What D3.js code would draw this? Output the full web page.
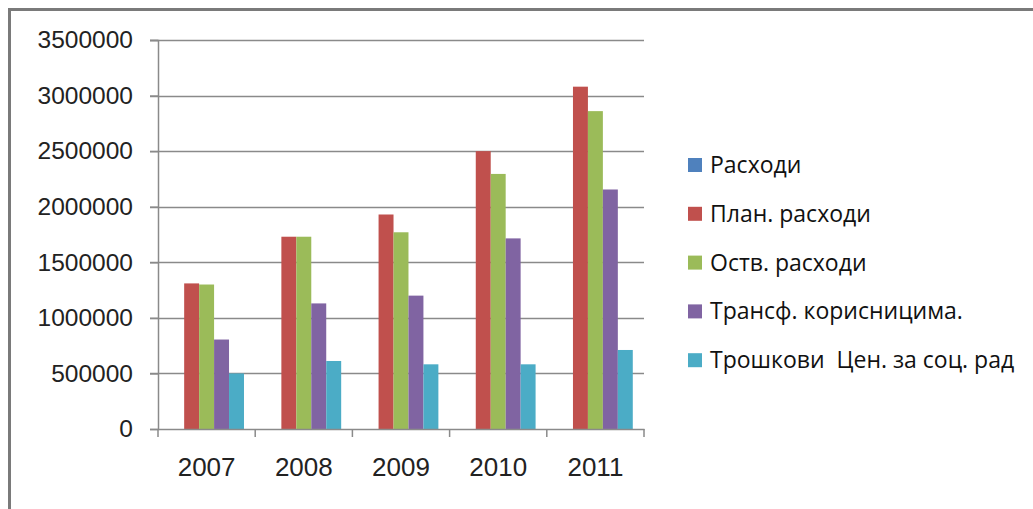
<!DOCTYPE html>
<html lang="sr">
<head>
    <meta charset="UTF-8">
    <title>Расходи</title>
    <script src="https://d3js.org/d3.v7.min.js"></script>
    <style>
        body {
            margin: 0;
            background: #fff;
            font-family: "Open Sans", sans-serif;
        }
        .axis text {
            fill: #222;
        }
        .legend text {
            fill: #111;
        }
    </style>
</head>
<body>
    <div id="chart"></div>
    <script>
        var width = 1033,
            height = 509;

        // data
        var years = ["2007", "2008", "2009", "2010", "2011"];
        var seriesNames = ["Расходи", "План. расходи", "Оств. расходи", "Трансф. корисницима.", "Трошкови  Цен. за соц. рад"];
        var seriesColors = ["#4F81BD", "#C0504D", "#9BBB59", "#8064A2", "#4BACC6"];
        var rashodi = [0, 0, 0, 0, 0];
        var planRashodi = [1310000, 1730000, 1930000, 2500000, 3080000];
        var ostvRashodi = [1300000, 1730000, 1770000, 2295000, 2860000];
        var transfKorisnicima = [805000, 1130000, 1200000, 1715000, 2155000];
        var troskoviCentra = [500000, 612000, 582000, 582000, 711000];
        var yTicks = [0, 500000, 1000000, 1500000, 2000000, 2500000, 3000000, 3500000];

        var series = [rashodi, planRashodi, ostvRashodi, transfKorisnicima, troskoviCentra];

        var margin = { left: 158, top: 40, right: 389, bottom: 80 };
        var plotW = width - margin.left - margin.right,
            plotH = height - margin.top - margin.bottom;

        var svg = d3.select("#chart").append("svg")
            .attr("width", width)
            .attr("height", height);

        // outer chart border (only top and left are in frame)
        svg.append("path")
            .attr("d", "M9.5," + height + "V9.5H" + width)
            .attr("fill", "none")
            .attr("stroke", "#7a7a7a")
            .attr("stroke-width", 3);

        var g = svg.append("g").attr("transform", "translate(" + margin.left + "," + margin.top + ")");

        var x = d3.scaleBand().domain(years).range([0, plotW]).paddingInner(0).paddingOuter(0);
        // Excel style: gap width 150% of a bar
        var barW = x.bandwidth() / (series.length + 1.5);
        var x1 = d3.scaleBand().domain(d3.range(series.length))
            .range([barW * 0.75, barW * 0.75 + barW * series.length]);

        var y = d3.scaleLinear().domain([0, 3500000]).range([plotH, 0]);

        // gridlines
        g.append("g").selectAll("line")
            .data(yTicks.slice(1))
            .enter().append("line")
            .attr("x1", -8)
            .attr("x2", plotW)
            .attr("y1", function(d) { return Math.round(y(d)) + 0.5; })
            .attr("y2", function(d) { return Math.round(y(d)) + 0.5; })
            .attr("stroke", "#8a8a8a")
            .attr("stroke-width", 1.5);

        // bars
        var groups = g.append("g").selectAll("g")
            .data(series)
            .enter().append("g")
            .attr("fill", function(d, i) { return seriesColors[i]; });

        groups.each(function(vals, si) {
            d3.select(this).selectAll("rect")
                .data(vals)
                .enter().append("rect")
                .attr("x", function(d, i) { return x(years[i]) + x1(si); })
                .attr("width", x1.bandwidth())
                .attr("y", function(d) { return y(d); })
                .attr("height", function(d) { return plotH - y(d); });
        });

        // y axis
        var yAxis = g.append("g").attr("class", "axis")
            .call(d3.axisLeft(y).tickValues(yTicks).tickSize(8).tickPadding(17).tickFormat(d3.format("d")));
        yAxis.selectAll("text").style("font-size", "24.5px");
        yAxis.selectAll("line, path").attr("stroke", "#8a8a8a").attr("stroke-width", 1.5);

        // x axis
        var xAxis = g.append("g").attr("class", "axis")
            .attr("transform", "translate(0," + plotH + ")")
            .call(d3.axisBottom(x).tickSize(0).tickPadding(29));
        xAxis.selectAll("text").style("font-size", "26px");
        xAxis.select("path").attr("stroke", "#8a8a8a").attr("stroke-width", 1.5);
        xAxis.selectAll(".bound")
            .data(d3.range(years.length + 1))
            .enter().append("line")
            .attr("class", "bound")
            .attr("x1", function(i) { return i * x.step(); })
            .attr("x2", function(i) { return i * x.step(); })
            .attr("y1", 0)
            .attr("y2", 8)
            .attr("stroke", "#8a8a8a")
            .attr("stroke-width", 1.5);

        // legend
        var legend = svg.append("g").attr("class", "legend")
            .attr("transform", "translate(688,165)");
        var item = legend.selectAll("g")
            .data(seriesNames)
            .enter().append("g")
            .attr("transform", function(d, i) { return "translate(0," + i * 48.8 + ")"; });
        item.append("rect")
            .attr("x", 0)
            .attr("y", -7)
            .attr("width", 14)
            .attr("height", 14)
            .attr("fill", function(d, i) { return seriesColors[i]; });
        item.append("text")
            .attr("x", 22)
            .attr("dy", "0.35em")
            .style("font-size", "23px")
            .style("white-space", "pre")
            .attr("xml:space", "preserve")
            .text(function(d) { return d; });
    </script>
</body>
</html>
